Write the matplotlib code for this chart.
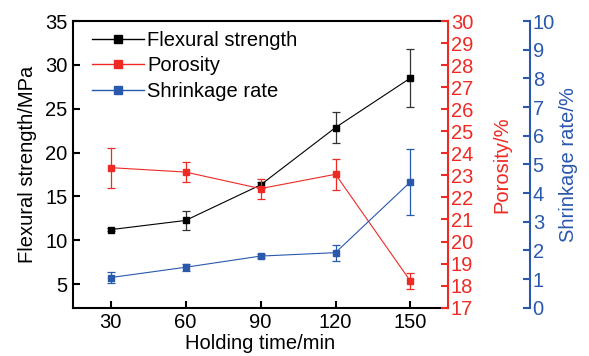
import matplotlib
matplotlib.use("Agg")
import matplotlib.pyplot as plt
from matplotlib.lines import Line2D

plt.rcParams['font.family'] = ['Liberation Sans', 'DejaVu Sans']

time_min = [30, 60, 90, 120, 150]
flex_strength = [11.2, 12.25, 16.3, 22.85, 28.5]
flex_err = [0.2, 1.05, 0.3, 1.75, 3.3]
porosity = [23.35, 23.15, 22.4, 23.05, 18.2]
porosity_err = [0.9, 0.45, 0.45, 0.7, 0.36]
shrinkage = [1.05, 1.41, 1.80, 1.92, 4.39]
shrinkage_err = [0.18, 0.12, 0.07, 0.28, 1.15]
labels = ['Flexural strength', 'Porosity', 'Shrinkage rate']

RED = '#ee2a24'
BLUE = '#2a58ad'
FS = 14.5

fig = plt.figure(figsize=(5.89, 3.56), dpi=100)
ax = fig.add_axes([0.124, 0.1357, 0.6366, 0.8053])
ax2 = ax.twinx()
ax3 = ax.twinx()
ax3.spines['right'].set_position(('outward', 59))

kw = dict(marker='s', markersize=4, linewidth=0.8, elinewidth=0.9, capsize=3, capthick=0.9)
ax.errorbar(time_min, flex_strength, yerr=flex_err, color='black', ecolor='#333333',
            zorder=3, **kw)
ax2.errorbar(time_min, porosity, yerr=porosity_err, color=RED, ecolor=RED, **kw)
ax3.errorbar(time_min, shrinkage, yerr=shrinkage_err, color=BLUE, ecolor=BLUE, **kw)

ax.set_xlim(15, 165)
ax.set_ylim(2.3, 35)
ax2.set_ylim(17, 30)
ax3.set_ylim(0, 10)
ax.set_xticks(time_min)
ax.set_yticks([5, 10, 15, 20, 25, 30, 35])
ax2.set_yticks(range(17, 31))
ax3.set_yticks(range(0, 11))

for a in (ax, ax2, ax3):
    for s in a.spines.values():
        s.set_linewidth(1.5)

ax.tick_params(axis='both', direction='in', length=5, width=1.5, labelsize=FS, pad=4)
ax2.tick_params(axis='y', direction='in', length=5, width=1.5, labelsize=FS,
                colors=RED, pad=2)
ax3.tick_params(axis='y', direction='in', length=5, width=1.5, labelsize=FS,
                colors=BLUE, pad=2)

ax2.spines['right'].set_color(RED)
ax3.spines['right'].set_color(BLUE)
for a in (ax2, ax3):
    a.spines['top'].set_visible(False)
    a.spines['bottom'].set_visible(False)
    a.spines['left'].set_visible(False)
ax.spines['right'].set_visible(False)

ax.set_xlabel('Holding time/min', fontsize=FS, labelpad=1)
ax.set_ylabel('Flexural strength/MPa', fontsize=FS, labelpad=6)
ax2.set_ylabel('Porosity/%', fontsize=FS, color=RED, labelpad=14)
ax3.set_ylabel('Shrinkage rate/%', fontsize=FS, color=BLUE, labelpad=3)

handles = [Line2D([], [], color=c, marker='s', markersize=6, linewidth=1)
           for c in ('black', RED, BLUE)]
ax.legend(handles, labels, loc='upper left', frameon=False, fontsize=FS,
          handlelength=2.6, handletextpad=0.15, labelspacing=0.32,
          borderaxespad=0.0, borderpad=0.0, bbox_to_anchor=(0.05, 0.965))

fig.savefig('out.png', dpi=100)
